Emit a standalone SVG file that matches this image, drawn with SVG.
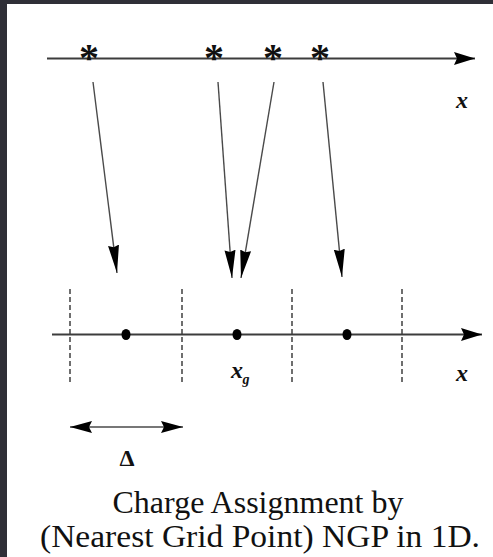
<svg xmlns="http://www.w3.org/2000/svg" width="493" height="557" viewBox="0 0 493 557">
<style>
.axis{stroke:#3c3c3c;stroke-width:2;fill:none}
.conn{stroke:#4a4a4a;stroke-width:1.4;fill:none}
.grid{stroke:#222;stroke-width:1.3;stroke-dasharray:5 3;fill:none}
.serif{font-family:"Liberation Serif","Times New Roman",serif;fill:#111}
.it{font-style:italic;font-weight:bold}
</style>
<defs>
<marker id="axhead" markerUnits="userSpaceOnUse" viewBox="0 -7 21 14" markerWidth="21" markerHeight="14" refX="21" refY="0" orient="auto">
<path d="M0,-6.5 L21,0 L0,6.5 L3,0 z" fill="#000"/>
</marker>
<marker id="phead" markerUnits="userSpaceOnUse" viewBox="0 -6 28 12" markerWidth="28" markerHeight="12" refX="28" refY="0" orient="auto">
<path d="M0,-5.5 L28,0 L0,5.5 L2,0 z" fill="#000"/>
</marker>
<marker id="dhead" markerUnits="userSpaceOnUse" viewBox="0 -7 22 14" markerWidth="22" markerHeight="14" refX="22" refY="0" orient="auto-start-reverse">
<path d="M0,-6 L22,0 L0,6 L3,0 z" fill="#000"/>
</marker>
</defs>
<rect x="0" y="0" width="493" height="557" fill="#ffffff"/>
<rect x="0" y="0" width="493" height="4" fill="#2f2f37"/>
<rect x="0" y="0" width="7" height="557" fill="#2f2f37"/>

<g id="top-axis">
<line class="axis" x1="47" y1="58.5" x2="475" y2="58.5" marker-end="url(#axhead)"/>
<text class="serif it" x="462" y="108" font-size="24" text-anchor="middle">x</text>
</g>
<g id="particles" class="serif" font-size="40" font-weight="bold" text-anchor="middle">
<text x="89" y="71">*</text>
<text x="214" y="71">*</text>
<text x="273" y="71">*</text>
<text x="320" y="71">*</text>
</g>

<g id="connectors">
<line class="conn" x1="93" y1="82" x2="117" y2="273" marker-end="url(#phead)"/>
<line class="conn" x1="218" y1="82" x2="232" y2="278" marker-end="url(#phead)"/>
<line class="conn" x1="274" y1="82" x2="241" y2="278" marker-end="url(#phead)"/>
<line class="conn" x1="323" y1="82" x2="342" y2="277" marker-end="url(#phead)"/>
</g>

<g id="grid-axis">
<line class="grid" x1="70" y1="289" x2="70" y2="382"/>
<line class="grid" x1="182" y1="289" x2="182" y2="382"/>
<line class="grid" x1="292" y1="289" x2="292" y2="382"/>
<line class="grid" x1="402" y1="289" x2="402" y2="382"/>
<line class="axis" x1="52" y1="334.5" x2="482" y2="334.5" marker-end="url(#axhead)"/>
<ellipse cx="126" cy="334.5" rx="4.5" ry="5.5" fill="#000"/>
<ellipse cx="237" cy="334.5" rx="4.5" ry="5.5" fill="#000"/>
<ellipse cx="347" cy="334.5" rx="4.5" ry="5.5" fill="#000"/>
<text class="serif it" x="237" y="378" font-size="24" text-anchor="middle">x</text>
<text class="serif it" x="246" y="384" font-size="14" text-anchor="middle">g</text>
<text class="serif it" x="462" y="381" font-size="24" text-anchor="middle">x</text>
</g>

<g id="delta">
<line class="conn" x1="70" y1="427" x2="183" y2="427" stroke-width="1.6" marker-start="url(#dhead)" marker-end="url(#dhead)"/>
<text class="serif" x="127" y="466" font-size="24" font-weight="bold" text-anchor="middle">Δ</text>
</g>

<g id="caption" class="serif" font-size="32" text-anchor="middle">
<text x="258" y="513">Charge Assignment by</text>
<text x="260" y="547" textLength="440" lengthAdjust="spacingAndGlyphs">(Nearest Grid Point) NGP in 1D.</text>
</g>
</svg>
